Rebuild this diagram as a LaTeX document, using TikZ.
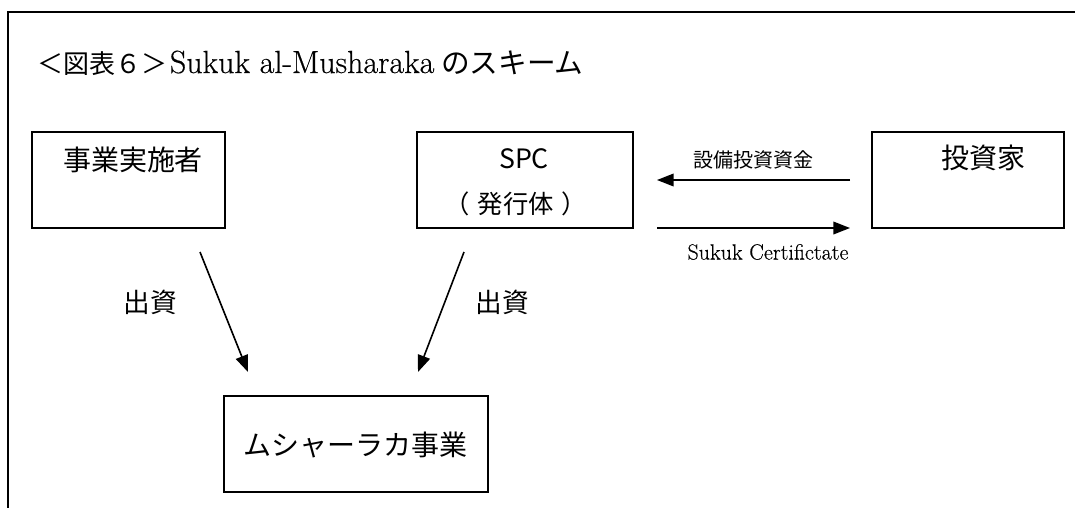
\documentclass[tikz,border=0pt]{standalone}
\usepackage{fontspec}
\newfontfamily\jp{Noto Sans CJK JP}
\newfontfamily\cent{Latin Modern Roman}[FakeBold=0.4]
\usetikzlibrary{arrows.meta,calc}
\tikzset{
  boxnode/.style={draw, line width=1.3pt, rectangle, inner sep=0pt, minimum height=72pt},
  jplabel/.style={font=\jp\fontsize{21pt}{24pt}\selectfont, inner sep=0pt},
  flow/.style={line width=1.2pt, -{Triangle[length=12.5pt,width=9.5pt]}},
  frameline/.style={line width=1.5pt}
}
\begin{document}
\begin{tikzpicture}[x=0.75pt,y=-0.75pt]
\useasboundingbox (0,0) rectangle (1075,508);
% frame
\coordinate (fr1) at (1075,12);
\coordinate (fr2) at (8,12);
\coordinate (fr3) at (8,508);
\draw[frameline] (fr1) -- (fr2) -- (fr3);
% title
\node[anchor=base west, inner sep=0pt] (title) at (37,73)
  {{\jp\fontsize{19.5pt}{22pt}\selectfont ＜図表６＞}\hspace{2pt}{\cent\fontsize{24pt}{28pt}\selectfont Sukuk al-Musharaka}\hspace{5pt}{\jp\fontsize{21.5pt}{24pt}\selectfont のスキーム}};
% boxes
\node[boxnode, minimum width=144.75pt] (b1) at (128.5,180) {};
\node[boxnode, minimum width=162pt] (spc) at (525,180) {};
\node[boxnode, minimum width=144pt] (inv) at (968,180) {};
\node[boxnode, minimum width=198pt] (mb) at (356,444) {};
% box texts
\node[jplabel] (t1) at (133,160) {事業実施者};
\node[inner sep=0pt, font=\jp\fontsize{20pt}{23pt}\selectfont] (t2) at (524,159) {SPC};
\node[inner sep=0pt, font=\jp\fontsize{19pt}{22pt}\selectfont] (t3) at (516,204) {（\kern6pt 発行体\kern6pt ）};
\node[jplabel] (t4) at (983,158) {投資家};
\node[jplabel] (t5) at (355,445) {ムシャーラカ事業};
% horizontal arrows
\coordinate (h1s) at (850,180);
\coordinate (h1e) at (657,180);
\coordinate (h2s) at (657,228);
\coordinate (h2e) at (850,228);
\draw[flow] (h1s) -- (h1e);
\draw[flow] (h2s) -- (h2e);
\node[inner sep=0pt, font=\jp\fontsize{15pt}{18pt}\selectfont] (l1) at (753,160) {設備投資資金};
\node[inner sep=0pt, font=\cent\fontsize{16.5pt}{19pt}\selectfont] (l2) at (768,252) {Sukuk Certifictate};
% diagonal arrows
\coordinate (d1s) at (200,252);
\coordinate (d1e) at (248,372);
\coordinate (d2s) at (464,252);
\coordinate (d2e) at (418,372);
\draw[flow] (d1s) -- (d1e);
\draw[flow] (d2s) -- (d2e);
\node[inner sep=0pt, font=\jp\fontsize{20pt}{23pt}\selectfont] (l3) at (150,302) {出資};
\node[inner sep=0pt, font=\jp\fontsize{20pt}{23pt}\selectfont] (l4) at (502,302) {出資};
\end{tikzpicture}
\end{document}
